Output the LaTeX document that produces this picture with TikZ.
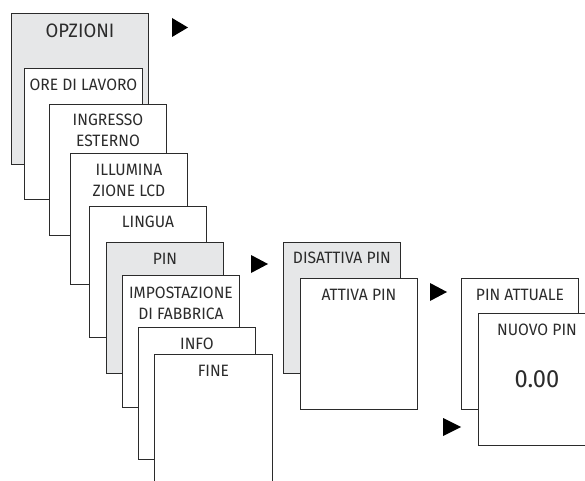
\documentclass[tikz,border=0pt]{standalone}
\usepackage{fontspec}
\setmainfont{Fira Sans}[FakeStretch=0.95]
\usetikzlibrary{calc}
\definecolor{panelgray}{HTML}{E6E7E8}
\definecolor{edgecol}{HTML}{2B2B2B}
\begin{document}
\begin{tikzpicture}[x=1bp,y=-1bp,
  panel/.style={draw=edgecol, line width=0.9bp, fill=white, rectangle, inner sep=0pt,
    anchor=north west, minimum width=117bp, minimum height=131bp},
  graypanel/.style={panel, fill=panelgray},
  lbl/.style={anchor=base, inner sep=0pt, text=edgecol, font=\fontsize{16.5}{16.5}\selectfont},
  biglbl/.style={lbl, font=\fontsize{19.5}{19.5}\selectfont},
  numlbl/.style={lbl, font=\fontsize{25}{25}\selectfont},
  tri/.style={fill=black}]
\path[use as bounding box, clip] (0,0) rectangle (585,481);
% main menu stack
\node[graypanel, minimum width=137bp, minimum height=151bp] (opz) at (11,13) {};
\node[panel, minimum width=118bp] (ore) at (24,68) {};
\node[panel] (ing) at (49,104) {};
\node[panel] (ill) at (70,153) {};
\node[panel] (lin) at (89,206) {};
\node[graypanel] (pin) at (106,242) {};
\node[panel, minimum height=132bp] (imp) at (122,275) {};
\node[panel, minimum height=132bp] (inf) at (138,327) {};
\node[panel, minimum width=118bp] (fin) at (154,354) {};
% PIN submenu
\node[graypanel] (dis) at (283,242) {};
\node[panel] (att) at (300,278) {};
% PIN entry
\node[panel] (act) at (461,278) {};
\node[panel, minimum height=132bp] (nuo) at (478,313) {};
% labels
\node[biglbl] (topz) at ($(opz.north)+(0,25)$) {OPZIONI};
\node[lbl] (tore) at ($(ore.north)+(0,23)$) {ORE DI LAVORO};
\node[lbl] (ting1) at ($(ing.north)+(0,22)$) {INGRESSO};
\node[lbl] (ting2) at ($(ing.north)+(0,43)$) {ESTERNO};
\node[lbl] (till1) at ($(ill.north)+(0,23)$) {ILLUMINA};
\node[lbl] (till2) at ($(ill.north)+(0,44)$) {ZIONE LCD};
\node[lbl] (tlin) at ($(lin.north)+(0,22)$) {LINGUA};
\node[lbl] (tpin) at ($(pin.north)+(0,22)$) {PIN};
\node[lbl] (timp1) at ($(imp.north)+(0,23)$) {IMPOSTAZIONE};
\node[lbl] (timp2) at ($(imp.north)+(0,44)$) {DI FABBRICA};
\node[lbl] (tinf) at ($(inf.north)+(0,22)$) {INFO};
\node[lbl] (tfin) at ($(fin.north)+(0,22)$) {FINE};
\node[lbl] (tdis) at ($(dis.north)+(0,21)$) {DISATTIVA PIN};
\node[lbl] (tatt) at ($(att.north)+(0,22)$) {ATTIVA PIN};
\node[lbl] (tact) at ($(act.north)+(0,22)$) {PIN ATTUALE};
\node[lbl] (tnuo) at ($(nuo.north)+(0,22)$) {NUOVO PIN};
\node[numlbl] (tval) at ($(nuo.north)+(0,74)$) {0.00};
% arrow markers
\fill[tri] (172,18) -- (188,27.5) -- (172,37) -- cycle;
\fill[tri] (251,255) -- (268,264) -- (251,273) -- cycle;
\fill[tri] (430,283) -- (447,292) -- (430,301) -- cycle;
\fill[tri] (443,418) -- (461,427) -- (443,436) -- cycle;
\end{tikzpicture}
\end{document}
